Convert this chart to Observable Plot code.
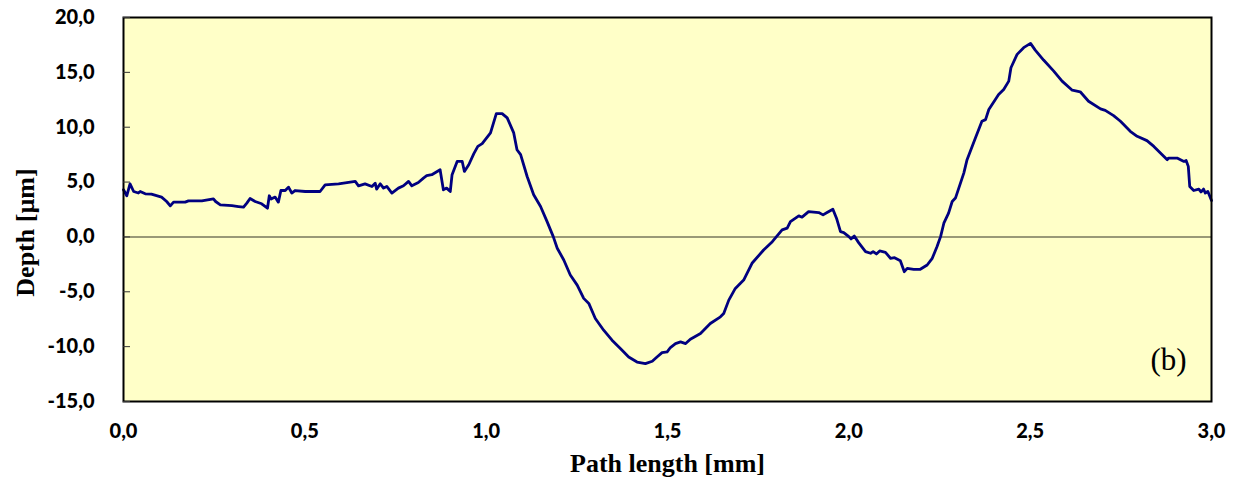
<!DOCTYPE html>
<html>
<head>
<meta charset="utf-8">
<script src="https://cdn.jsdelivr.net/npm/d3@7"></script>
<script src="https://cdn.jsdelivr.net/npm/@observablehq/plot@0.6"></script>
<style>
  html, body { margin: 0; padding: 0; background: #ffffff; }
  #chart svg { display: block; }
</style>
</head>
<body>
<div id="chart"></div>
<script>
// Path length [mm]
const pathLength = [
  0.000, 0.009, 0.018, 0.028, 0.041, 0.046, 0.060, 0.077, 0.105, 0.119,
  0.129, 0.138, 0.170, 0.179, 0.216, 0.248, 0.254, 0.267, 0.299, 0.317,
  0.331, 0.340, 0.349, 0.363, 0.381, 0.397, 0.402, 0.407, 0.418, 0.427,
  0.434, 0.446, 0.455, 0.464, 0.473, 0.501, 0.542, 0.556, 0.593, 0.639,
  0.648, 0.666, 0.685, 0.694, 0.698, 0.708, 0.717, 0.726, 0.740, 0.758,
  0.772, 0.786, 0.795, 0.813, 0.827, 0.836, 0.850, 0.873, 0.882, 0.891,
  0.901, 0.906, 0.920, 0.934, 0.940, 0.952, 0.966, 0.977, 0.989, 1.012,
  1.028, 1.044, 1.058, 1.076, 1.085, 1.095, 1.113, 1.131, 1.150, 1.168,
  1.185, 1.196, 1.214, 1.232, 1.251, 1.269, 1.283, 1.301, 1.324, 1.347,
  1.370, 1.393, 1.416, 1.439, 1.458, 1.471, 1.485, 1.499, 1.508, 1.522,
  1.536, 1.550, 1.563, 1.591, 1.618, 1.646, 1.655, 1.669, 1.687, 1.710,
  1.733, 1.765, 1.789, 1.816, 1.830, 1.839, 1.862, 1.871, 1.889, 1.917,
  1.929, 1.940, 1.956, 1.966, 1.977, 1.986, 2.000, 2.006, 2.015, 2.027,
  2.046, 2.060, 2.067, 2.076, 2.085, 2.101, 2.115, 2.126, 2.142, 2.153,
  2.161, 2.179, 2.197, 2.216, 2.230, 2.243, 2.253, 2.262, 2.275, 2.285,
  2.294, 2.317, 2.326, 2.349, 2.367, 2.377, 2.386, 2.413, 2.427, 2.441,
  2.447, 2.464, 2.482, 2.501, 2.514, 2.537, 2.565, 2.588, 2.616, 2.638,
  2.661, 2.694, 2.707, 2.730, 2.749, 2.776, 2.795, 2.822, 2.841, 2.864,
  2.878, 2.882, 2.905, 2.924, 2.930, 2.936, 2.940, 2.951, 2.965, 2.971,
  2.978, 2.983, 2.990, 3.000
];
// Depth [µm]
const depth = [
  4.30, 3.75, 4.84, 4.14, 4.00, 4.14, 3.93, 3.90, 3.63, 3.23,
  2.83, 3.17, 3.17, 3.29, 3.29, 3.47, 3.23, 2.93, 2.86, 2.77,
  2.71, 3.08, 3.50, 3.23, 3.02, 2.62, 3.75, 3.45, 3.63, 3.17,
  4.23, 4.23, 4.54, 4.00, 4.23, 4.14, 4.14, 4.75, 4.84, 5.06,
  4.66, 4.84, 4.60, 4.90, 4.36, 4.84, 4.45, 4.60, 4.00, 4.45,
  4.66, 5.06, 4.66, 4.96, 5.36, 5.58, 5.67, 6.12, 4.30, 4.45,
  4.14, 5.67, 6.88, 6.88, 5.97, 6.58, 7.59, 8.25, 8.50, 9.48,
  11.24, 11.24, 10.85, 9.48, 7.95, 7.50, 5.51, 3.84, 2.77, 1.40,
  0.03, -1.03, -2.10, -3.47, -4.39, -5.60, -6.06, -7.43, -8.50, -9.41,
  -10.17, -10.94, -11.40, -11.55, -11.33, -10.94, -10.54, -10.48, -10.08, -9.72,
  -9.57, -9.72, -9.32, -8.80, -7.89, -7.28, -6.98, -5.76, -4.69, -3.93,
  -2.40, -1.19, -0.43, 0.64, 0.80, 1.40, 1.92, 1.80, 2.31, 2.22,
  2.01, 2.22, 2.53, 1.71, 0.48, 0.40, 0.03, -0.18, 0.09, -0.52,
  -1.34, -1.49, -1.34, -1.55, -1.28, -1.40, -1.95, -1.89, -2.17, -3.17,
  -2.86, -2.95, -2.95, -2.56, -1.95, -0.89, 0.03, 1.25, 2.17, 3.23,
  3.54, 5.82, 7.04, 9.02, 10.54, 10.69, 11.61, 12.98, 13.44, 14.20,
  15.42, 16.64, 17.25, 17.64, 17.03, 16.12, 15.11, 14.20, 13.37, 13.23,
  12.37, 11.67, 11.54, 11.06, 10.54, 9.63, 9.17, 8.78, 8.25, 7.50,
  7.04, 7.19, 7.19, 6.88, 6.96, 6.43, 4.60, 4.23, 4.36, 4.10,
  4.36, 4.00, 4.15, 3.32
];
const xTicks = [0, 0.5, 1.0, 1.5, 2.0, 2.5, 3.0];
const yTicks = [-15, -10, -5, 0, 5, 10, 15, 20];
const xTitle = "Path length [mm]";
const yTitle = "Depth [µm]";
const panelLabel = "(b)";

const profile = pathLength.map((x, i) => ({x, y: depth[i]}));
const fmt1 = d => d3.format(".1f")(d).replace(".", ",").replace("−", "-");

const tickFont = "Lato, 'Open Sans', sans-serif";
const titleFont = "'Liberation Serif', 'DejaVu Serif', serif";

const chart = Plot.plot({
  width: 1237,
  height: 481,
  marginLeft: 123,
  marginRight: 26,
  marginTop: 17,
  marginBottom: 80,
  style: {background: "#ffffff", overflow: "visible"},
  x: {domain: [0, 3], ticks: xTicks},
  y: {domain: [-15, 20], ticks: yTicks},
  marks: [
    Plot.frame({fill: "#FFFFC8", stroke: null}),
    Plot.ruleY([0], {stroke: "#77775c", strokeWidth: 1.5}),
    Plot.line(profile, {x: "x", y: "y", stroke: "#000080", strokeWidth: 2.8, strokeLinejoin: "round", curve: "linear"}),
    Plot.frame({stroke: "#000000", strokeWidth: 2}),
    Plot.axisY(yTicks, {anchor: "left", tickSize: -7, stroke: "#333", tickFormat: () => "", label: null}),
    Plot.axisY(yTicks, {anchor: "left", tickSize: 0, tickPadding: 29, tickFormat: fmt1, label: null,
      fontFamily: tickFont, fontWeight: 900, fontSize: 20, fill: "#000"}),
    Plot.axisX(xTicks, {anchor: "bottom", tickSize: 0, tickPadding: 22, tickFormat: fmt1, label: null,
      fontFamily: tickFont, fontWeight: 900, fontSize: 20, fill: "#000"}),
    Plot.text([yTitle], {frameAnchor: "left", dx: -98, dy: 23, rotate: -90, text: d => d,
      fontFamily: titleFont, fontWeight: "bold", fontSize: 26, fill: "#000", textAnchor: "middle"}),
    Plot.text([xTitle], {frameAnchor: "bottom", dy: 70, text: d => d,
      fontFamily: titleFont, fontWeight: "bold", fontSize: 26, fill: "#000", textAnchor: "middle"}),
    Plot.text([panelLabel], {frameAnchor: "bottom-right", dx: -43, dy: -32, text: d => d,
      fontFamily: titleFont, fontSize: 31, fill: "#000", textAnchor: "middle"})
  ]
});
document.getElementById("chart").appendChild(chart);
</script>
</body>
</html>
